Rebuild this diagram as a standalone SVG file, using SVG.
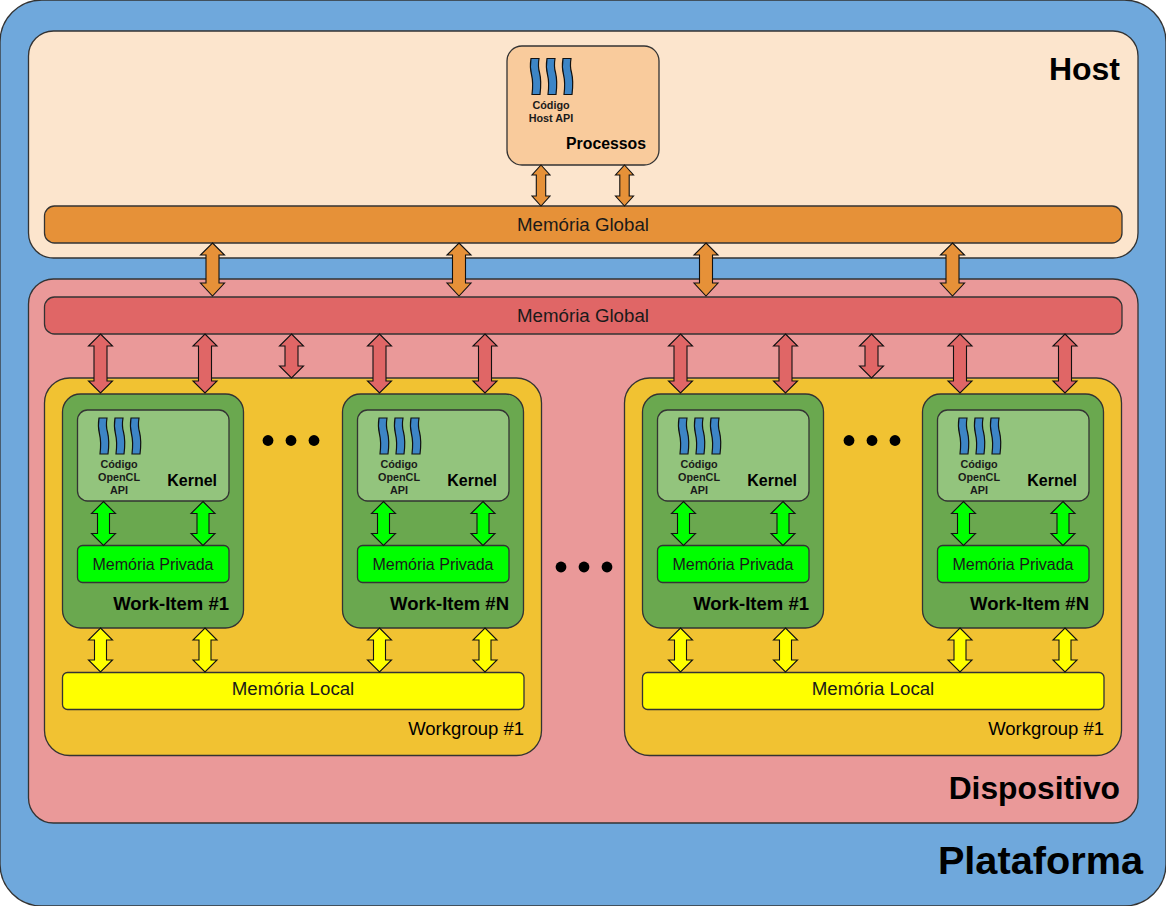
<svg xmlns="http://www.w3.org/2000/svg" width="1166" height="906" viewBox="0 0 1166 906">
<style>
rect{stroke:#333;stroke-width:1.300}
.w{stroke:#111;stroke-width:1.200;fill:#3d85c6}
text{font-family:"Liberation Sans",Arial,sans-serif;fill:#000}
.b{font-weight:bold}
.m{font-size:18.700px;text-anchor:middle;fill:#1a1a1a}
.r{text-anchor:end}
.c{font-size:10.800px;font-weight:bold;text-anchor:middle;fill:#1a1a1a}
.k{font-size:16px;font-weight:bold;text-anchor:end}
.wi{font-size:18.500px;font-weight:bold;text-anchor:end}
.wg{font-size:18.500px;text-anchor:end}
.o{fill:#e69138}.d{fill:#e06666}.g{fill:#00ff00}.y{fill:#ffff00}
.ar{stroke:#111;stroke-width:1.100}
</style>
<defs>
<path id="a-host" d="M0 0L9 10H4.700V31H9L0 41L-9 31H-4.700V10H-9Z"/>
<path id="a-big" d="M0 0L12 12H6.500V40H12L0 53L-12 40H-6.500V12H-12Z"/>
<path id="a-dev" d="M0 0L12 12H6.500V47H12L0 59L-12 47H-6.500V12H-12Z"/>
<path id="a-short" d="M0 0L12 12H6.500V32H12L0 44L-12 32H-6.500V12H-12Z"/>
<path id="a-in" d="M0 0L12 12H6V32H12L0 44L-12 32H-6V12H-12Z"/>
<g id="waves">
<path class="w" d="M0 0H8C7 6 7 9 8.500 14C10 20 10 28 9 36H1C2 28 2 22 .5 16C-1 10 -1 6 0 0Z"/>
<path class="w" d="M16 0H24C23 6 23 9 24.500 14C26 20 26 28 25 36H17C18 28 18 22 16.500 16C15 10 15 6 16 0Z"/>
<path class="w" d="M32 0H40C39 6 39 9 40.500 14C42 20 42 28 41 36H33C34 28 34 22 32.500 16C31 10 31 6 32 0Z"/>
</g>
<g id="item">
<rect x="62.500" y="394" width="181" height="234" rx="18" fill="#6aa84f"/>
<rect x="77.500" y="410" width="151.500" height="91" rx="10" fill="#93c47d"/>
<use href="#waves" x="99" y="418"/>
<text class="c" x="119" y="468">Código</text>
<text class="c" x="119" y="481">OpenCL</text>
<text class="c" x="119" y="494">API</text>
<text class="k" x="217" y="486">Kernel</text>
<rect x="77.500" y="545.500" width="151.500" height="37" rx="5" fill="#00ff00"/>
<text class="m" x="153" y="570" style="font-size:16px">Memória Privada</text>
</g>
<g id="dots"><circle cx="0" cy="0" r="5.400" fill="#000"/><circle cx="23" cy="0" r="5.400" fill="#000"/><circle cx="46" cy="0" r="5.400" fill="#000"/></g>
</defs>

<g id="plataforma">
<rect x="0" y="0" width="1166" height="906" rx="42" fill="#6fa8dc"/>
<text class="b r" x="1143" y="874" font-size="39.700">Plataforma</text>
</g>
<g id="host">
<rect x="28.500" y="31" width="1109.500" height="227" rx="25" fill="#fce5cd"/>
<text class="b r" x="1120" y="80" font-size="32">Host</text>
</g>
<g id="dispositivo">
<rect x="28.500" y="279" width="1109.500" height="544" rx="25" fill="#ea9999"/>
<text class="b r" x="1120" y="799" font-size="31.800">Dispositivo</text>
</g>
<g id="processos">
<rect x="507" y="46" width="152" height="119" rx="15" fill="#f9cb9c"/>
<use href="#waves" x="531" y="58.500"/>
<text class="c" x="551" y="109">Código</text>
<text class="c" x="551" y="122">Host API</text>
<text x="646" y="149" class="k r" style="font-size:15.800px">Processos</text>
</g>
<g id="memoria-global-host">
<rect x="44.500" y="206" width="1077.500" height="37" rx="10" fill="#e69138"/>
<text class="m" x="583" y="231">Memória Global</text>
</g>
<g id="memoria-global-dispositivo">
<rect x="44.500" y="297" width="1077.500" height="37" rx="10" fill="#e06666"/>
<text class="m" x="583" y="322">Memória Global</text>
</g>
<g id="workgroup-a">
<rect x="44.500" y="378" width="497" height="377.500" rx="25" fill="#f1c232"/>
<text class="wg" x="524" y="735">Workgroup #1</text>
</g>
<g id="workgroup-b">
<rect x="624.500" y="378" width="497" height="377.500" rx="25" fill="#f1c232"/>
<text class="wg" x="1104" y="735">Workgroup #1</text>
</g>
<g id="work-item-a1"><use href="#item"/><text class="wi" x="229" y="610">Work-Item #1</text></g>
<g id="work-item-an"><use href="#item" x="280"/><text class="wi" x="509" y="610">Work-Item #N</text></g>
<g id="work-item-b1"><use href="#item" x="580"/><text class="wi" x="809" y="610">Work-Item #1</text></g>
<g id="work-item-bn"><use href="#item" x="860"/><text class="wi" x="1089" y="610">Work-Item #N</text></g>
<g id="memoria-local-a">
<rect x="62.500" y="672.500" width="461.500" height="37" rx="5" fill="#ffff00"/>
<text class="m" x="293" y="695">Memória Local</text>
</g>
<g id="memoria-local-b">
<rect x="642.500" y="672.500" width="461.500" height="37" rx="5" fill="#ffff00"/>
<text class="m" x="873" y="695">Memória Local</text>
</g>
<g id="reticencias">
<use href="#dots" x="268" y="440.500"/>
<use href="#dots" x="849" y="440.500"/>
<use href="#dots" x="561" y="567"/>
</g>
<g id="connectors" class="ar">
<use href="#a-host" class="o" x="541" y="165"/>
<use href="#a-host" class="o" x="624.500" y="165"/>
<use href="#a-big" class="o" x="212.500" y="243"/>
<use href="#a-big" class="o" x="459" y="243"/>
<use href="#a-big" class="o" x="706" y="243"/>
<use href="#a-big" class="o" x="952.500" y="243"/>
<use href="#a-dev" class="d" x="100.500" y="334"/>
<use href="#a-dev" class="d" x="205" y="334"/>
<use href="#a-short" class="d" x="291.500" y="334"/>
<use href="#a-dev" class="d" x="379.500" y="334"/>
<use href="#a-dev" class="d" x="485" y="334"/>
<use href="#a-dev" class="d" x="680.500" y="334"/>
<use href="#a-dev" class="d" x="785.500" y="334"/>
<use href="#a-short" class="d" x="871.500" y="334"/>
<use href="#a-dev" class="d" x="960" y="334"/>
<use href="#a-dev" class="d" x="1065" y="334"/>
<use href="#a-in" class="g" x="103.500" y="501.500"/>
<use href="#a-in" class="g" x="203" y="501.500"/>
<use href="#a-in" class="g" x="383.500" y="501.500"/>
<use href="#a-in" class="g" x="483" y="501.500"/>
<use href="#a-in" class="g" x="683.500" y="501.500"/>
<use href="#a-in" class="g" x="783" y="501.500"/>
<use href="#a-in" class="g" x="963.500" y="501.500"/>
<use href="#a-in" class="g" x="1063" y="501.500"/>
<use href="#a-in" class="y" x="100.500" y="628"/>
<use href="#a-in" class="y" x="205" y="628"/>
<use href="#a-in" class="y" x="379.500" y="628"/>
<use href="#a-in" class="y" x="485" y="628"/>
<use href="#a-in" class="y" x="680.500" y="628"/>
<use href="#a-in" class="y" x="785.500" y="628"/>
<use href="#a-in" class="y" x="960" y="628"/>
<use href="#a-in" class="y" x="1065" y="628"/>
</g>
</svg>
